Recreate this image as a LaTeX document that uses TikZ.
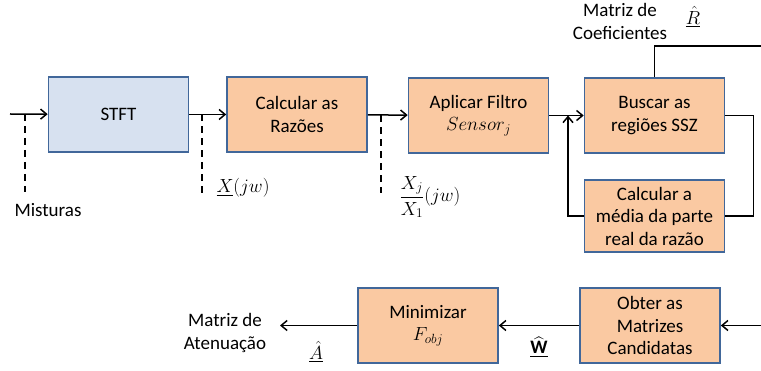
\RequirePackage{fix-cm}
\documentclass[tikz,border=0pt]{standalone}
\usepackage{amsmath}
\usepackage{fontspec}
\setmainfont{Carlito}
\usetikzlibrary{arrows.meta}
\definecolor{laranja}{HTML}{FAC9A2}
\definecolor{azulclaro}{HTML}{D7E1F0}
\definecolor{borda}{HTML}{41679A}
\begin{document}
\begin{tikzpicture}[x=1pt,y=-1pt,font=\fontsize{19}{22.5}\selectfont,
    bloco/.style={draw=borda,line width=1.6pt,fill=laranja,minimum width=140pt,
      minimum height=75pt,inner sep=0pt,align=center},
    seta/.style={line width=1.5pt,-{Straight Barb[length=6pt,width=10pt,line width=1.5pt]}},
    tracejado/.style={line width=1.5pt,dash pattern=on 7pt off 5pt},
    rotulo/.style={inner sep=0pt,align=center}]
    \useasboundingbox (0,0) rectangle (761,371);

    % linha de cima
    \node[bloco,fill=azulclaro] (stft) at (118.5,114.5) {STFT};
    \node[bloco] (razoes) at (297,114.5) {Calcular as\\Razões};
    \node[bloco] (filtro) at (478.5,115.5) {Aplicar Filtro\\$Sensor_j$};
    \node[bloco] (buscar) at (654.5,115.5) {Buscar as\\regiões SSZ};
    \node[bloco,minimum height=72pt] (media) at (654.5,216) {Calcular a\\média da parte\\real da razão};

    % linha de baixo
    \node[bloco] (obter) at (650,325.5) {Obter as\\Matrizes\\Candidatas};
    \node[bloco] (minim) at (428,325.5) {Minimizar\\$F_{obj}$};

    \coordinate (entrada) at (10,114);
    \coordinate (juncao) at (568,115.5);
    \coordinate (saidaR) at (761,46);
    \coordinate (chegada) at (761,325.5);
    \coordinate (saidaA) at (280,325.5);

    \draw[seta] (entrada) -- (stft);
    \draw[seta] (stft) -- (razoes);
    \draw[seta] (razoes) -- (filtro);
    \draw[seta] (filtro) -- (buscar);
    \draw[seta] (media.west) -| (juncao);
    \draw[line width=1.5pt] (buscar.east) -- ++(28,0) |- (media.east);
    \draw[line width=1.5pt] (buscar.north) |- (saidaR);
    \draw[seta] (chegada) -- (obter);
    \draw[seta] (obter) -- (minim);
    \draw[seta] (minim) -- (saidaA);

    % sinais tracejados
    \draw[tracejado] (25,114) -- (25,192);
    \draw[tracejado] (202,114.5) -- (202,193);
    \draw[tracejado] (381,115.5) -- (381,193);

    \node[rotulo] (mist) at (48,210) {Misturas};
    \node[rotulo] (xjw) at (243,188) {$\underline{X}(jw)$};
    \node[rotulo] (razao) at (430,197) {$\dfrac{X_j}{X_1}(jw)$};
    \node[rotulo] (coef) at (620,21.5) {Matriz de\\Coeficientes};
    \node[rotulo] (rchap) at (693,17) {$\underline{\hat{R}}$};
    \node[rotulo] (aten) at (225,333) {Matriz de\\Atenuação};
    \node[rotulo] (achap) at (316,352) {$\underline{\hat{A}}$};
    \node[rotulo] (wchap) at (539,347) {$\underline{\widehat{\mathbf{W}}}$};
  \end{tikzpicture}
\end{document}
